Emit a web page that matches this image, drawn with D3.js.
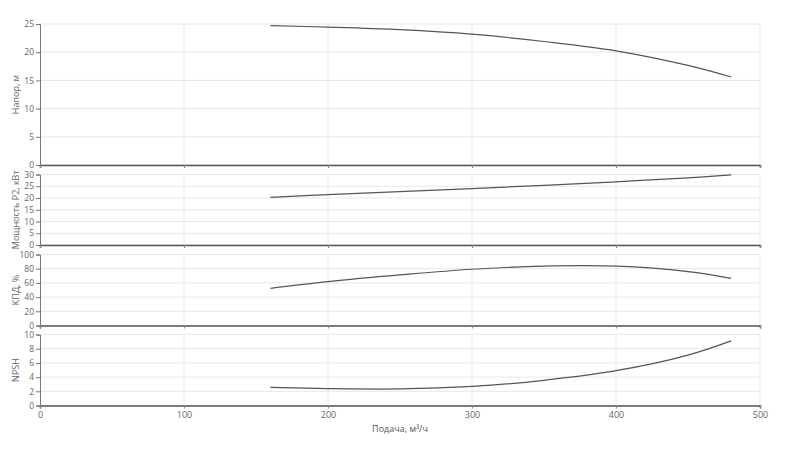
<!DOCTYPE html>
<html>
<head>
<meta charset="utf-8">
<script src="https://cdn.jsdelivr.net/npm/d3@7"></script>
<style>
  body { margin: 0; background: #fff; }
  svg { font-family: "Open Sans", sans-serif; }
</style>
</head>
<body>
<div id="chart"></div>
<script>
// flow, m3/h
const flow = [160, 200, 250, 300, 350, 400, 450, 480];
// curves
const head = [24.7, 24.45, 24.0, 23.2, 21.9, 20.25, 17.65, 15.6];
const power = [20.3, 21.4, 22.7, 24.0, 25.4, 26.9, 28.6, 29.8];
const efficiency = [52.4, 61.8, 71.2, 79.2, 83.6, 83.5, 76.0, 66.5];
const npsh = [2.55, 2.38, 2.33, 2.68, 3.55, 4.9, 7.1, 9.1];

const xTicks = [0, 100, 200, 300, 400, 500];
const panelNames = ["Напор, м", "Мощность P2, кВт", "КПД, %", "NPSH"];
const panelMax = [25, 30, 100, 10];
const panelTicks = [
  [0, 5, 10, 15, 20, 25],
  [0, 5, 10, 15, 20, 25, 30],
  [0, 20, 40, 60, 80, 100],
  [0, 2, 4, 6, 8, 10]
];
const series = [head, power, efficiency, npsh];

const W = 800, H = 472;
const left = 40, right = 760;
const panels = [[24, 165], [174.5, 245], [254.5, 325.5], [334.5, 405.5]];

const svg = d3.select('#chart').append('svg')
  .attr('width', W)
  .attr('height', H)

const x = d3.scaleLinear().domain([0, 500]).range([left, right]);

panels.forEach((p, i) => {
  const y = d3.scaleLinear().domain([0, panelMax[i]]).range([p[1], p[0]]);
  const g = svg.append('g')

  // grid
  g.selectAll('.hg').data(panelTicks[i]).enter().append('line')
    .attr('x1', left).attr('x2', right)
    .attr('y1', d => y(d)).attr('y2', d => y(d))
    .attr('stroke', '#e3e7f1').attr('stroke-width', 1)
  g.selectAll('.vg').data(xTicks.slice(1)).enter().append('line')
    .attr('x1', d => x(d)).attr('x2', d => x(d))
    .attr('y1', p[0]).attr('y2', p[1])
    .attr('stroke', '#e3e7f1').attr('stroke-width', 1)

  // y axis
  const ya = g.append('g')
    .attr('transform', `translate(${left},0)`)
    .call(d3.axisLeft(y).tickValues(panelTicks[i]).tickSize(4).tickPadding(2))
  ya.select('.domain').attr('stroke', '#777')
  ya.selectAll('.tick line').attr('stroke', '#777')
  ya.selectAll('text').attr('fill', '#666').style('font-size', '8.5px')
    .style('font-family', '"Open Sans", sans-serif')

  // x axis line
  const xa = g.append('g')
    .attr('transform', `translate(0,${p[1]})`)
    .call(d3.axisBottom(x).tickValues(xTicks).tickSize(3)
      .tickFormat(i === 3 ? d3.format('d') : ''))
  xa.select('.domain').attr('stroke', '#555').attr('stroke-width', 1.6)
  xa.selectAll('.tick line').attr('stroke', '#888')
  xa.selectAll('text').attr('fill', '#666').style('font-size', '9px')
    .style('font-family', '"Open Sans", sans-serif')

  // curve
  const line = d3.line()
    .x((d, k) => x(flow[k]))
    .y(d => y(d))
    .curve(d3.curveCatmullRom.alpha(0.5))
  g.append('path')
    .datum(series[i])
    .attr('d', line)
    .attr('fill', 'none')
    .attr('stroke', '#555')
    .attr('stroke-width', 1.2)

  // y title
  svg.append('text')
    .attr('transform', `translate(19,${(p[0] + p[1]) / 2}) rotate(-90)`)
    .attr('text-anchor', 'middle')
    .attr('fill', '#666')
    .style('font-size', '9px')
    .text(panelNames[i])
})

svg.append('text')
  .attr('x', 400).attr('y', 432)
  .attr('text-anchor', 'middle')
  .attr('fill', '#555')
  .style('font-size', '9px')
  .text('Подача, м³/ч')
</script>
</body>
</html>
